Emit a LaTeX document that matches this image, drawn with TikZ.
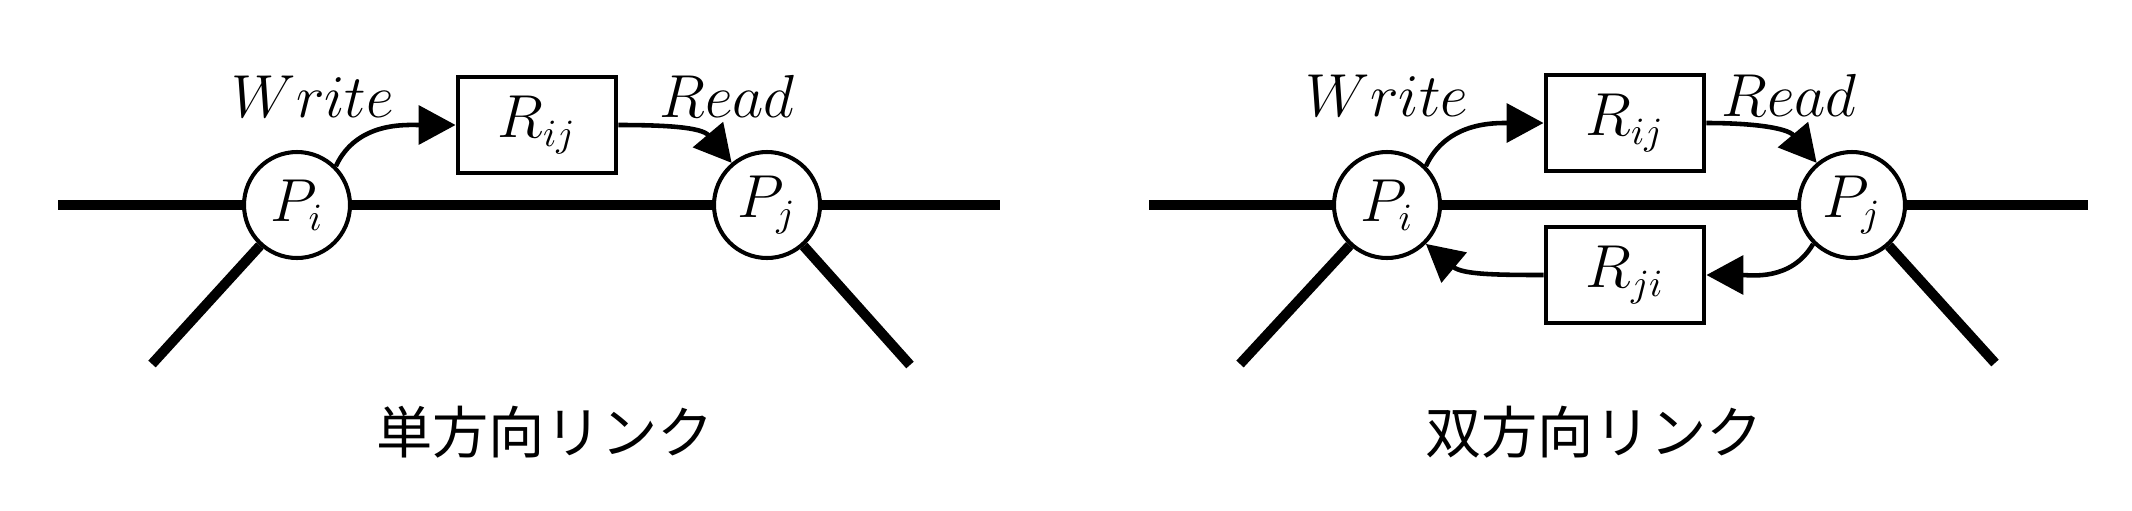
\documentclass[tikz,border=0pt]{standalone}
\usepackage{fontspec}
\newfontfamily\jpfont{Noto Sans CJK JP}
\usetikzlibrary{arrows.meta}

\begin{document}
\begin{tikzpicture}[
    proc/.style={circle, draw, line width=1.15pt, fill=white,
      minimum size=1.06cm, inner sep=0pt, font=\fontsize{16}{19}\selectfont},
    buf/.style={rectangle, draw, line width=1.4pt, fill=white,
      minimum width=1.58cm, minimum height=0.96cm, font=\fontsize{16}{19}\selectfont},
    lbl/.style={anchor=base, font=\fontsize{16}{19}\selectfont},
    link/.style={line width=2.85pt},
    flow/.style={line width=1.3pt, -{Triangle[length=10.5pt,width=11pt]}},
    linktitle/.style={font=\jpfont\fontsize{16}{19}\selectfont}
  ]
  \useasboundingbox (0,0) rectangle (21.32,5.10);

  % one-way link
  \node[proc] (Pi) at (2.97,3.05) {$P_i$};
  \node[proc] (Pj) at (7.67,3.05) {$P_j$};
  \node[buf] (Rij) at (5.37,3.85) {$R_{ij}$};
  \coordinate (w1) at (0.58,3.05);
  \coordinate (e1) at (10.00,3.05);
  \coordinate (sw1) at (1.52,1.46);
  \coordinate (se1) at (9.10,1.45);
  \draw[link] (w1) -- (Pi);
  \draw[link] (Pi) -- (Pj);
  \draw[link] (Pj) -- (e1);
  \draw[link] (Pi) -- (sw1);
  \draw[link] (Pj) -- (se1);
  \node[lbl] (wr1) at (3.13,3.93) {$Write$};
  \node[lbl] (rd1) at (7.27,3.93) {$Read$};
  \draw[flow] (Pi.45) to[out=65,in=180] (Rij.west);
  \draw[flow] (Rij.east) to[out=0,in=130] (Pj.130);
  \node[linktitle] (t1) at (5.45,0.78) {単方向リンク};

  % two-way link
  \node[proc] (Pi2) at (13.87,3.05) {$P_i$};
  \node[proc] (Pj2) at (18.52,3.05) {$P_j$};
  \node[buf] (Rij2) at (16.25,3.87) {$R_{ij}$};
  \node[buf] (Rji2) at (16.25,2.35) {$R_{ji}$};
  \coordinate (w2) at (11.49,3.05);
  \coordinate (e2) at (20.88,3.05);
  \coordinate (sw2) at (12.40,1.46);
  \coordinate (se2) at (19.95,1.47);
  \draw[link] (w2) -- (Pi2);
  \draw[link] (Pi2) -- (Pj2);
  \draw[link] (Pj2) -- (e2);
  \draw[link] (Pi2) -- (sw2);
  \draw[link] (Pj2) -- (se2);
  \node[lbl] (wr2) at (13.87,3.94) {$Write$};
  \node[lbl] (rd2) at (17.89,3.94) {$Read$};
  \draw[flow] (Pi2.45) to[out=65,in=180] (Rij2.west);
  \draw[flow] (Rij2.east) to[out=0,in=130] (Pj2.130);
  \draw[flow] (Pj2.225) to[out=240,in=0] (Rji2.east);
  \draw[flow] (Rji2.west) to[out=180,in=-40] (Pi2.-45);
  \node[linktitle] (t2) at (15.94,0.78) {双方向リンク};
\end{tikzpicture}
\end{document}
